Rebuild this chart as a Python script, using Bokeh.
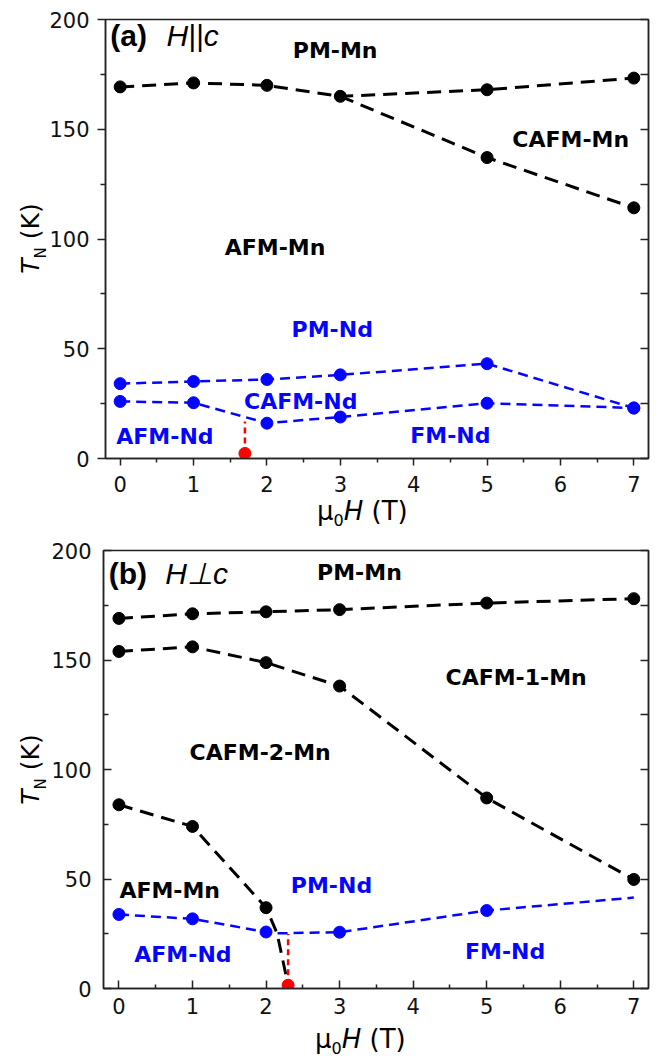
from bokeh.plotting import figure
from bokeh.layouts import column, row
from bokeh.models import Range1d, LinearAxis, FixedTicker, Label, Div
from bokeh.core.properties import value
from bokeh.embed import file_html
from bokeh.resources import INLINE

# ---------------- data: panel (a) H || c ----------------
a_field = [0, 1, 2, 3, 5, 7]
a_pm_mn = [169.3, 171.1, 170.0, 165.0, 168.0, 173.3]
a_cafm_field = [3, 5, 7]
a_cafm_mn = [165.0, 137.1, 114.2]
a_pm_nd = [34.1, 35.1, 36.0, 38.1, 43.2, 23.0]
a_cafm_nd = [26.0, 25.4, 16.1, 18.9, 25.2, 23.0]
a_red_field = [1.7, 1.7]
a_red_T = [2.3, 16.9]

# ---------------- data: panel (b) H perp c ----------------
b_field = [0, 1, 2, 3, 5, 7]
b_pm_mn = [169.0, 171.1, 172.0, 173.0, 176.0, 178.0]
b_cafm1_mn = [153.9, 156.0, 148.8, 138.1, 87.0, 49.8]
b_afm_field = [0, 1, 2]
b_afm_mn = [83.9, 74.0, 36.9]
b_afm_line_field = [0, 1, 2, 2.15, 2.3]
b_afm_line_T = [83.9, 74.0, 36.9, 25.2, 1.5]
b_nd_field = [0, 1, 2, 3, 5]
b_nd = [33.8, 31.8, 25.8, 25.7, 35.6]
b_nd_line_field = [0, 1, 2, 2.15, 3, 5, 7]
b_nd_line_T = [33.8, 31.8, 25.8, 25.2, 25.7, 35.6, 41.5]
b_red_field = [2.3, 2.3]
b_red_T = [1.5, 24.9]

# region labels
a_black_labels = ["PM-Mn", "CAFM-Mn", "AFM-Mn"]
a_black_x = [2.93, 6.14, 2.11]
a_black_y = [185.9, 145.2, 96.2]
a_blue_labels = ["PM-Nd", "CAFM-Nd", "AFM-Nd", "FM-Nd"]
a_blue_x = [2.89, 2.46, 0.61, 4.5]
a_blue_y = [58.7, 26.0, 10.0, 10.3]

b_black_labels = ["PM-Mn", "CAFM-1-Mn", "CAFM-2-Mn", "AFM-Mn"]
b_black_x = [3.27, 5.40, 1.92, 0.69]
b_black_y = [190.0, 142.0, 107.8, 44.9]
b_blue_labels = ["PM-Nd", "AFM-Nd", "FM-Nd"]
b_blue_x = [2.89, 0.87, 5.25]
b_blue_y = [47.2, 15.5, 16.9]

x_major = [0, 1, 2, 3, 4, 5, 6, 7]
x_minor = [0.5, 1.5, 2.5, 3.5, 4.5, 5.5, 6.5]
y_major = [0, 50, 100, 150, 200]
y_minor = [25, 75, 125, 175]
y_right = [0, 25, 50, 75, 100, 125, 150, 175, 200]

BLACK = "#000000"
BLUE = "#0505ff"
RED = "#ff0000"
AX = "#222222"
TICK_FONT = "DejaVu Sans"

Y_TITLE = ("<i>T</i><span style=\"font-size:15px;font-style:normal;position:relative;top:7px\">N</span>"
           "&nbsp;(K)")
X_TITLE = ("\u03bc<span style=\"font-size:16px;position:relative;top:6px\">0</span>"
           "<i>H</i>&nbsp;(T)")


def y_title_div(height, center_h):
    html = ("<div style=\"box-sizing:border-box;width:46px;height:%dpx;padding-left:14px;"
            "display:flex;align-items:center;justify-content:center;\">"
            "<div style=\"transform:rotate(-90deg);white-space:nowrap;font-family:'DejaVu Sans';"
            "font-size:25px;color:#000;line-height:normal\">%s</div></div>") % (center_h, Y_TITLE)
    return Div(text=html, width=46, height=height, margin=0, styles={"overflow": "visible"})


def x_title_div(height, pad_left, shift):
    html = ("<div style=\"white-space:nowrap;font-family:'DejaVu Sans';font-size:26px;color:#000;"
            "line-height:normal;padding-left:%dpx;position:relative;top:%dpx\">%s</div>") % (
        pad_left, shift, X_TITLE)
    return Div(text=html, width=616, height=height, margin=0, styles={"overflow": "visible"})


def make_panel(height, top, bottom, left, xstart, inward, tag, tag_sym, tag_x, sym_x, tag_y):
    p = figure(width=616, height=height, x_range=Range1d(xstart, 7.2), y_range=Range1d(0, 200),
               output_backend="svg", toolbar_location=None, title=None,
               min_border_left=left, min_border_right=14, min_border_top=top,
               min_border_bottom=bottom, margin=0)
    p.grid.visible = False
    p.outline_line_color = AX
    p.outline_line_width = 1.5
    p.background_fill_color = "white"
    p.border_fill_color = "white"

    xa = p.xaxis[0]
    xa.ticker = FixedTicker(ticks=x_major, minor_ticks=x_minor)
    ya = p.yaxis[0]
    ya.ticker = FixedTicker(ticks=y_major, minor_ticks=y_minor)
    for ax in (xa, ya):
        ax.axis_line_color = AX
        ax.axis_line_width = 1.5
        ax.major_tick_line_color = AX
        ax.minor_tick_line_color = AX
        ax.major_tick_line_width = 1.5
        ax.minor_tick_line_width = 1.5
        ax.major_label_text_font = TICK_FONT
        ax.major_label_text_font_size = "21px"
        ax.major_label_text_color = "#111111"
    if inward:
        xa.major_tick_in, xa.major_tick_out = 8, 0
        xa.minor_tick_in, xa.minor_tick_out = 4, 0
        ya.major_tick_in, ya.major_tick_out = 8, 0
        ya.minor_tick_in, ya.minor_tick_out = 5, 0
        xa.major_label_standoff = 9
        ya.major_label_standoff = 12
    else:
        xa.major_tick_in, xa.major_tick_out = 0, 7
        xa.minor_tick_in, xa.minor_tick_out = 0, 4
        ya.major_tick_in, ya.major_tick_out = 0, 8
        ya.minor_tick_in, ya.minor_tick_out = 0, 5
        xa.major_label_standoff = 10
        ya.major_label_standoff = 8

    ra = LinearAxis(ticker=FixedTicker(ticks=y_right, minor_ticks=[]),
                    major_label_overrides={v: " " for v in y_right})
    ra.axis_line_color = AX
    ra.axis_line_width = 1.5
    ra.major_tick_line_color = AX
    ra.major_tick_line_width = 1.5
    ra.major_tick_in, ra.major_tick_out = 8, 0
    ra.minor_tick_line_color = None
    ra.major_label_standoff = 0
    ra.major_label_text_font_size = "1px"
    p.add_layout(ra, "right")

    # panel tag
    p.add_layout(Label(x=tag_x, y=tag_y, text=tag, text_font="Liberation Sans",
                       text_font_style="bold", text_font_size="30px", text_color=BLACK,
                       text_align="left", text_baseline="middle"))
    p.add_layout(Label(x=sym_x, y=tag_y, text=tag_sym, text_font="Liberation Sans",
                       text_font_style="italic", text_font_size="30px", text_color=BLACK,
                       text_align="left", text_baseline="middle"))
    return p


def dashed(p, x, y, color, dash, width):
    p.line(x, y, line_color=color, line_dash=dash, line_width=width)


def dots(p, x, y, color):
    p.scatter(x, y, marker="circle", size=12, fill_color=color, line_color=color)


def region_text(p, xs, ys, texts, color):
    p.text(x=xs, y=ys, text=texts, text_font=value("DejaVu Sans"), text_font_style="bold",
           text_font_size="22px", text_color=color, text_align="center", text_baseline="middle")


BLK_DASH = "14 8"
BLU_DASH = "10 6"
RED_DASH = "6 4"

# ---------------- panel (a) ----------------
pa = make_panel(499, 19, 41, 56, -0.2, False, "(a)", "H||c", -0.135, 0.63, 192.8)
dashed(pa, a_field, a_pm_mn, BLACK, BLK_DASH, 3)
dashed(pa, a_cafm_field, a_cafm_mn, BLACK, BLK_DASH, 3)
dashed(pa, a_field, a_pm_nd, BLUE, BLU_DASH, 2.5)
dashed(pa, a_field, a_cafm_nd, BLUE, BLU_DASH, 2.5)
dashed(pa, a_red_field, a_red_T, RED, RED_DASH, 2.5)
dots(pa, a_field, a_pm_mn, BLACK)
dots(pa, a_cafm_field[1:], a_cafm_mn[1:], BLACK)
dots(pa, a_field, a_pm_nd, BLUE)
dots(pa, a_field, a_cafm_nd, BLUE)
dots(pa, a_red_field[:1], a_red_T[:1], RED)
region_text(pa, a_black_x, a_black_y, a_black_labels, BLACK)
region_text(pa, a_blue_x, a_blue_y, a_blue_labels, BLUE)

# ---------------- panel (b) ----------------
pb = make_panel(494, 20, 36, 57, -0.21, True, "(b)", "H\u22a5c", -0.14, 0.63, 189.3)
dashed(pb, b_field, b_pm_mn, BLACK, BLK_DASH, 3)
dashed(pb, b_field, b_cafm1_mn, BLACK, BLK_DASH, 3)
dashed(pb, b_afm_line_field, b_afm_line_T, BLACK, BLK_DASH, 3)
dashed(pb, b_nd_line_field, b_nd_line_T, BLUE, BLU_DASH, 2.5)
dashed(pb, b_red_field, b_red_T, RED, RED_DASH, 2.5)
dots(pb, b_field, b_pm_mn, BLACK)
dots(pb, b_field, b_cafm1_mn, BLACK)
dots(pb, b_afm_field, b_afm_mn, BLACK)
dots(pb, b_nd_field, b_nd, BLUE)
dots(pb, b_red_field[:1], b_red_T[:1], RED)
region_text(pb, b_black_x, b_black_y, b_black_labels, BLACK)
region_text(pb, b_blue_x, b_blue_y, b_blue_labels, BLUE)

block_a = row(y_title_div(530, 477), column(pa, x_title_div(31, 271, -3), spacing=0), spacing=0)
block_b = row(y_title_div(527, 478), column(pb, x_title_div(33, 269, 0), spacing=0), spacing=0)
layout = column(block_a, block_b, spacing=0)
open("out.html", "w").write(file_html(layout, INLINE))
